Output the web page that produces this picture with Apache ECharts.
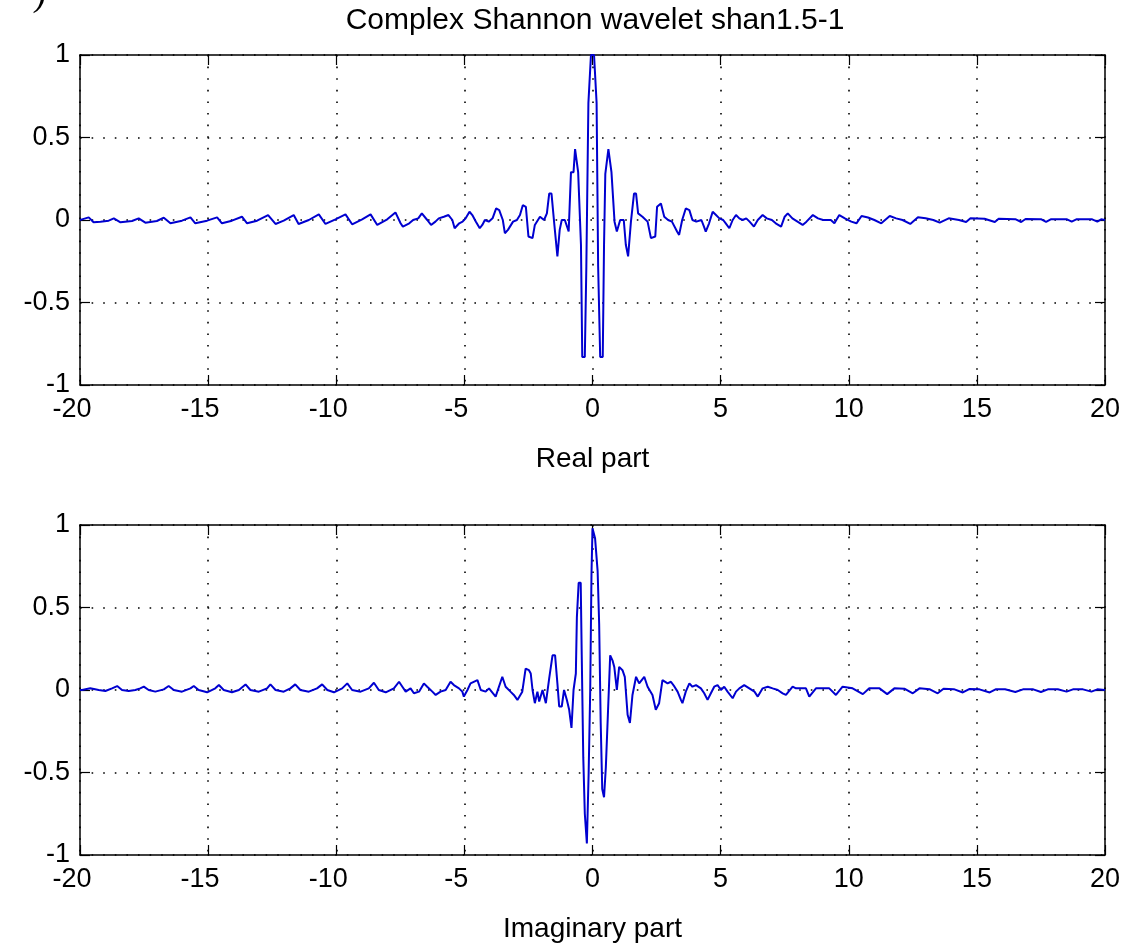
<!DOCTYPE html>
<html>
<head>
<meta charset="utf-8">
<title>Complex Shannon wavelet shan1.5-1</title>
<script src="https://cdn.jsdelivr.net/npm/echarts@6/dist/echarts.min.js"></script>
<style>
  html, body { margin: 0; padding: 0; background: #ffffff; }
  #chart { width: 1124px; height: 944px; }
</style>
</head>
<body>
<div id="chart"></div>
<script>
// Real part of the wavelet: sample positions and values
const realX = [
  -20, -19.92, -19.66, -19.47, -19.2, -18.88, -18.68, -18.42, -17.97, -17.71,
  -17.45, -17.0, -16.73, -16.47, -16.02, -15.69, -15.5, -15.04, -14.65, -14.46,
  -14.07, -13.68, -13.48, -13.09, -12.66, -12.37, -12.05, -11.66, -11.47, -11.07,
  -10.68, -10.42, -10.03, -9.64, -9.38, -8.99, -8.66, -8.4, -8.01, -7.69,
  -7.49, -7.4, -7.15, -7.0, -6.8, -6.66, -6.45, -6.3, -6.13, -6.0,
  -5.8, -5.62, -5.47, -5.38, -5.2, -5.07, -4.95, -4.8, -4.69, -4.55,
  -4.4, -4.3, -4.2, -4.05, -3.9, -3.76, -3.64, -3.5, -3.42, -3.3,
  -3.1, -2.95, -2.83, -2.72, -2.6, -2.5, -2.34, -2.25, -2.05, -1.89,
  -1.78, -1.69, -1.6, -1.5, -1.37, -1.28, -1.2, -1.08, -0.93, -0.84,
  -0.74, -0.68, -0.62, -0.56, -0.5, -0.45, -0.4, -0.3, -0.24, -0.16,
  -0.06, 0.06, 0.16, 0.22, 0.3, 0.4, 0.45, 0.5, 0.56, 0.62,
  0.68, 0.74, 0.8, 0.86, 0.95, 1.08, 1.22, 1.3, 1.39, 1.5,
  1.62, 1.7, 1.78, 1.95, 2.15, 2.28, 2.45, 2.52, 2.67, 2.8,
  2.95, 3.1, 3.3, 3.38, 3.5, 3.64, 3.78, 3.9, 4.05, 4.25,
  4.35, 4.42, 4.55, 4.69, 4.82, 4.95, 5.1, 5.2, 5.34, 5.47,
  5.6, 5.73, 5.86, 6.0, 6.13, 6.3, 6.45, 6.64, 6.8, 7.0,
  7.15, 7.36, 7.5, 7.62, 7.8, 8.0, 8.2, 8.35, 8.6, 8.8,
  9.0, 9.3, 9.44, 9.63, 9.85, 10.1, 10.3, 10.5, 10.75, 11.0,
  11.27, 11.6, 11.85, 12.1, 12.4, 12.7, 13.0, 13.3, 13.55, 13.9,
  14.3, 14.58, 14.75, 15.3, 15.7, 15.85, 16.5, 16.73, 16.9, 17.5,
  17.7, 17.9, 18.5, 18.7, 18.9, 19.5, 19.7, 19.85, 20
];
const realY = [
  0.0, 0.004, 0.016, -0.014, -0.01, -0.004, 0.01, -0.014, -0.006, 0.01,
  -0.016, -0.006, 0.014, -0.02, -0.004, 0.016, -0.02, -0.004, 0.016, -0.02,
  -0.004, 0.02, -0.02, -0.004, 0.03, -0.024, -0.004, 0.03, -0.024, 0.0,
  0.034, -0.024, 0.004, 0.034, -0.026, 0.004, 0.034, -0.03, 0.004, 0.046,
  -0.02, -0.04, -0.02, 0.0, 0.01, 0.04, 0.0, -0.03, -0.01, 0.01,
  0.02, 0.03, 0.0, -0.05, -0.02, -0.01, 0.01, 0.05, 0.03, -0.01,
  -0.05, -0.03, 0.0, -0.01, 0.01, 0.07, 0.06, 0.0, -0.08, -0.06,
  -0.01, 0.0, 0.03, 0.09, 0.08, -0.10, -0.11, -0.03, 0.02, 0.0,
  0.04, 0.16, 0.16, -0.01, -0.22, -0.06, 0.0, 0.0, -0.07, 0.29,
  0.29, 0.43, 0.43, 0.29, 0.28, -0.15, -0.83, -0.83, -0.28, 0.71,
  1.0, 1.0, 0.71, -0.28, -0.83, -0.83, -0.15, 0.28, 0.29, 0.43,
  0.43, 0.29, 0.28, -0.01, -0.07, 0.0, 0.0, -0.15, -0.22, -0.01,
  0.16, 0.16, 0.04, 0.02, -0.01, -0.11, -0.10, 0.08, 0.10, 0.02,
  0.0, -0.01, -0.07, -0.09, 0.0, 0.07, 0.06, 0.0, -0.01, 0.0,
  -0.04, -0.07, -0.02, 0.05, 0.03, 0.01, 0.0, -0.02, -0.05, 0.0,
  0.03, 0.01, 0.0, 0.01, -0.01, -0.04, 0.0, 0.03, 0.01, 0.0,
  -0.02, -0.04, 0.02, 0.04, 0.01, -0.01, -0.03, -0.01, 0.03, 0.01,
  0.0, 0.0, -0.02, 0.03, 0.01, -0.01, -0.02, 0.024, 0.015, 0.0,
  -0.02, 0.024, 0.01, 0.0, -0.024, 0.016, 0.01, 0.0, -0.016, 0.01,
  0.0, -0.012, 0.01, 0.008, -0.012, 0.008, 0.005, -0.012, 0.006, 0.005,
  -0.012, 0.005, 0.005, -0.01, 0.005, 0.004, -0.01, 0.004, 0.0
];

// Imaginary part of the wavelet: sample positions and values
const imagX = [
  -20, -19.92, -19.6, -19.27, -19.01, -18.75, -18.55, -18.36, -18.1, -17.84,
  -17.65, -17.51, -17.32, -17.06, -16.73, -16.54, -16.34, -16.02, -15.69, -15.56,
  -15.37, -15.04, -14.72, -14.58, -14.39, -14.07, -13.8, -13.54, -13.35, -13.02,
  -12.7, -12.57, -12.37, -12.05, -11.79, -11.6, -11.4, -11.07, -10.75, -10.55,
  -10.35, -10.09, -9.77, -9.57, -9.38, -9.05, -8.73, -8.53, -8.34, -8.07,
  -7.75, -7.55, -7.42, -7.29, -7.1, -6.97, -6.77, -6.58, -6.45, -6.25,
  -6.12, -5.93, -5.73, -5.54, -5.41, -5.21, -5.08, -5.02, -4.88, -4.76,
  -4.49, -4.36, -4.17, -4.04, -3.78, -3.52, -3.39, -3.2, -3.07, -2.93,
  -2.74, -2.61, -2.48, -2.41, -2.34, -2.25, -2.15, -2.08, -1.95, -1.82,
  -1.69, -1.56, -1.46, -1.37, -1.3, -1.2, -1.11, -1.0, -0.91, -0.82,
  -0.74, -0.65, -0.61, -0.54, -0.46, -0.42, -0.36, -0.3, -0.22, -0.15,
  -0.09, -0.04, 0.0, 0.1, 0.2, 0.26, 0.32, 0.38, 0.45, 0.52,
  0.6, 0.69, 0.78, 0.85, 0.95, 1.04, 1.17, 1.26, 1.37, 1.46,
  1.56, 1.7, 1.82, 2.02, 2.15, 2.34, 2.47, 2.6, 2.73, 2.8,
  2.93, 3.06, 3.2, 3.32, 3.45, 3.51, 3.64, 3.78, 3.9, 4.04,
  4.23, 4.36, 4.49, 4.62, 4.75, 4.88, 5.01, 5.14, 5.27, 5.47,
  5.6, 5.73, 5.92, 6.12, 6.32, 6.45, 6.64, 6.84, 7.03, 7.23,
  7.42, 7.55, 7.81, 7.94, 8.33, 8.46, 8.72, 9.24, 9.5, 9.76,
  10.15, 10.55, 10.8, 11.2, 11.5, 11.78, 12.17, 12.5, 12.76, 13.15,
  13.47, 13.7, 14.1, 14.45, 14.7, 15.1, 15.5, 15.75, 16.1, 16.5,
  16.8, 17.2, 17.5, 17.77, 18.16, 18.5, 18.75, 19.14, 19.47, 19.7,
  20
];
const imagY = [
  0.0, 0.0, 0.01, 0.0, -0.006, 0.01, 0.024, 0.0, -0.006, 0.0,
  0.01, 0.02, 0.0, -0.01, 0.004, 0.024, 0.0, -0.01, 0.01, 0.024,
  0.0, -0.014, 0.01, 0.03, 0.0, -0.014, 0.0, 0.034, 0.0, -0.01,
  0.01, 0.034, 0.0, -0.01, 0.01, 0.034, 0.0, -0.01, 0.01, 0.034,
  0.0, -0.014, 0.01, 0.04, 0.0, -0.01, 0.01, 0.044, 0.0, -0.014,
  0.01, 0.05, 0.02, -0.01, 0.01, -0.02, -0.01, 0.04, 0.02, -0.01,
  -0.03, -0.01, 0.0, 0.05, 0.03, 0.01, -0.01, -0.04, 0.0, 0.04,
  0.06, 0.0, -0.01, 0.01, -0.04, 0.08, 0.02, -0.01, -0.03, -0.06,
  -0.01, 0.13, 0.12, 0.10, 0.0, -0.08, -0.01, -0.07, 0.0, -0.08,
  0.07, 0.21, 0.21, 0.04, -0.1, -0.1, 0.0, -0.06, -0.12, -0.23,
  0.0, 0.1, 0.44, 0.65, 0.65, 0.21, -0.41, -0.75, -0.93, -0.5,
  -0.01, 0.7, 0.98, 0.92, 0.72, 0.4, -0.2, -0.6, -0.65, -0.47,
  -0.15, 0.21, 0.18, 0.14, 0.0, 0.14, 0.12, 0.08, -0.15, -0.2,
  -0.03, 0.08, 0.04, 0.08, 0.02, -0.03, -0.12, -0.08, 0.06, 0.07,
  0.04, 0.05, 0.02, -0.01, -0.06, -0.08, -0.01, 0.04, 0.02, 0.03,
  0.01, -0.02, -0.06, -0.02, 0.02, 0.03, 0.0, 0.02, -0.01, -0.05,
  -0.01, 0.01, 0.03, 0.01, -0.01, -0.04, 0.01, 0.02, 0.01, 0.0,
  -0.02, -0.03, 0.02, 0.01, 0.01, -0.04, 0.01, 0.01, -0.03, 0.02,
  0.01, -0.025, 0.01, 0.01, -0.025, 0.01, 0.008, -0.02, 0.01, 0.005,
  -0.02, 0.008, 0.005, -0.015, 0.006, 0.004, -0.015, 0.005, 0.004, -0.012,
  0.004, 0.004, -0.012, 0.004, 0.004, -0.01, 0.004, 0.004, -0.01, 0.004,
  0.0
];

// Axis ticks shared by both panels
const xTicks = [-20, -15, -10, -5, 0, 5, 10, 15, 20];
const yTicks = [-1, -0.5, 0, 0.5, 1];

const titleText = 'Complex Shannon wavelet shan1.5-1';
const realName = 'Real part';
const imagName = 'Imaginary part';

const FONT = '"Liberation Sans", Arial, Helvetica, sans-serif';
const INK = '#000000';
const LINE_BLUE = '#0000d0';

function pairs(xs, ys) {
  return xs.map((x, i) => [x, ys[i]]);
}

const gridDefs = [
  { left: 80, top: 55, width: 1025, height: 330 },
  { left: 80, top: 525, width: 1025, height: 330 }
];

const dotted = { show: true, lineStyle: { color: '#000', width: 1.6, type: [1.6, 10] } };

function bottomX(gridIndex, name) {
  return {
    type: 'value', gridIndex, position: 'bottom',
    min: xTicks[0], max: xTicks[xTicks.length - 1], interval: 5,
    name, nameLocation: 'middle', nameGap: 60,
    nameTextStyle: { color: INK, fontFamily: FONT, fontSize: 28 },
    axisLine: { show: true, onZero: false, lineStyle: { color: INK, width: 1.5 } },
    axisTick: { show: true, inside: true, length: 10, lineStyle: { color: INK, width: 1.2 } },
    axisLabel: {
      color: INK, fontFamily: FONT, fontSize: 27, margin: 11,
      // negative numbers sit slightly left of their tick
      formatter: v => xTicks.includes(v) ? (v < 0 ? '{n|' + v + '}' : String(v)) : '',
      rich: { n: { fontFamily: FONT, fontSize: 27, color: INK, padding: [0, 16, 0, 0] } }
    },
    splitLine: dotted
  };
}
function topX(gridIndex) {
  return {
    type: 'value', gridIndex, position: 'top',
    min: xTicks[0], max: xTicks[xTicks.length - 1], interval: 5,
    axisLine: { show: true, onZero: false, lineStyle: { color: INK, width: 1.5 } },
    axisTick: { show: true, inside: true, length: 10, lineStyle: { color: INK, width: 1.2 } },
    axisLabel: { show: false },
    splitLine: { show: false }
  };
}
function leftY(gridIndex) {
  return {
    type: 'value', gridIndex, position: 'left',
    min: yTicks[0], max: yTicks[yTicks.length - 1], interval: 0.5,
    axisLine: { show: true, onZero: false, lineStyle: { color: INK, width: 1.5 } },
    axisTick: { show: true, inside: true, length: 10, lineStyle: { color: INK, width: 1.2 } },
    axisLabel: { color: INK, fontFamily: FONT, fontSize: 27, margin: 10,
      formatter: v => String(v) },
    splitLine: dotted
  };
}
function rightY(gridIndex) {
  return {
    type: 'value', gridIndex, position: 'right',
    min: yTicks[0], max: yTicks[yTicks.length - 1], interval: 0.5,
    axisLine: { show: true, onZero: false, lineStyle: { color: INK, width: 1.5 } },
    axisTick: { show: true, inside: true, length: 10, lineStyle: { color: INK, width: 1.2 } },
    axisLabel: { show: false },
    splitLine: { show: false }
  };
}

const chart = echarts.init(document.getElementById('chart'), null, { renderer: 'canvas' });

chart.setOption({
  animation: false,
  backgroundColor: '#ffffff',
  grid: gridDefs,
  xAxis: [bottomX(0, realName), bottomX(1, imagName), topX(0), topX(1)],
  yAxis: [leftY(0), leftY(1), rightY(0), rightY(1)],
  graphic: [
    {
      type: 'text', x: 595, y: 6,
      style: { text: titleText, fill: INK, font: '30px ' + FONT, align: 'center', verticalAlign: 'top' },
      z: 10
    },
    {
      type: 'text', x: 34, y: -18,
      style: { text: ')', fill: INK, font: 'italic 34px "DejaVu Serif", serif' },
      z: 10
    }
  ],
  series: [
    {
      type: 'line', xAxisIndex: 0, yAxisIndex: 0,
      data: pairs(realX, realY),
      showSymbol: false, symbol: 'none', clip: true,
      lineStyle: { color: LINE_BLUE, width: 2 }, z: 5
    },
    {
      type: 'line', xAxisIndex: 1, yAxisIndex: 1,
      data: pairs(imagX, imagY),
      showSymbol: false, symbol: 'none', clip: true,
      lineStyle: { color: LINE_BLUE, width: 2 }, z: 5
    }
  ]
});
</script>
</body>
</html>
